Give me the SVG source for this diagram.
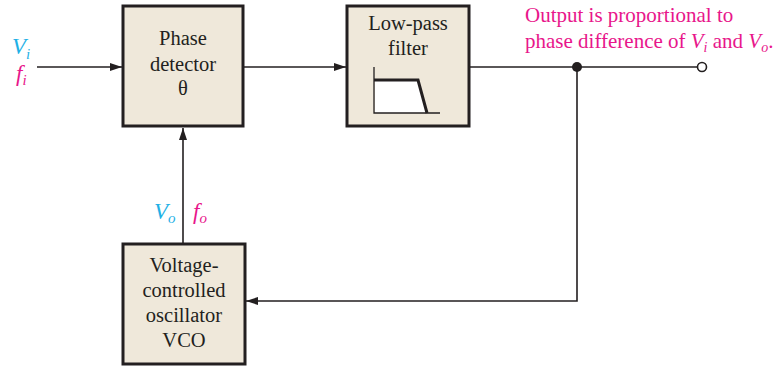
<svg xmlns="http://www.w3.org/2000/svg" width="780" height="368" viewBox="0 0 780 368">
<defs>
<style>
.box{fill:#efe8da;stroke:#231f20;stroke-width:3}
.t{font-family:"Liberation Serif","Times New Roman",serif;font-size:20.5px;fill:#231f20;text-anchor:middle}
.w{stroke:#231f20;stroke-width:1.6;fill:none}
.b{fill:#1fb1e6}
.m{fill:#e8168b}
.lbl{font-family:"Liberation Serif","Times New Roman",serif;font-size:23px}
.note{font-family:"Liberation Serif","Times New Roman",serif;font-size:21px}
.it{font-style:italic}
</style>
<marker id="ah" markerWidth="12" markerHeight="8" refX="12" refY="4" orient="auto" markerUnits="userSpaceOnUse">
<path d="M0,0 L12,4 L0,8 Z" fill="#231f20"/>
</marker>
</defs>
<rect width="780" height="368" fill="#ffffff"/>
<g id="connectors">
<line class="w" x1="37" y1="67" x2="122" y2="67" marker-end="url(#ah)"/>
<line class="w" x1="243" y1="67" x2="346" y2="67" marker-end="url(#ah)"/>
<line class="w" x1="469" y1="67" x2="698" y2="67"/>
<polyline class="w" points="577,67 577,301 246,301" marker-end="url(#ah)"/>
<line class="w" x1="183" y1="243" x2="183" y2="128" marker-end="url(#ah)"/>
<circle cx="577" cy="67" r="5" fill="#231f20"/>
<circle cx="702" cy="67" r="4.5" fill="#fff" stroke="#231f20" stroke-width="1.6"/>
</g>
<g id="phase-detector">
<rect class="box" x="123" y="6" width="120" height="120"/>
<text class="t" x="183" y="45">Phase</text>
<text class="t" x="183" y="71">detector</text>
<text class="t" x="183" y="95">θ</text>
</g>
<g id="low-pass-filter">
<rect class="box" x="347" y="6" width="122" height="120"/>
<text class="t" x="408" y="30">Low-pass</text>
<text class="t" x="408" y="55">filter</text>
<path d="M375,80 L418,80 L427,113 L375,113 Z" fill="#fff"/>
<polyline points="374,67 374,113 440,113" fill="none" stroke="#231f20" stroke-width="1.3"/>
<polyline points="374,80 418,80 427,113" fill="none" stroke="#231f20" stroke-width="3"/>
</g>
<g id="vco">
<rect class="box" x="123" y="244" width="122" height="120"/>
<text class="t" x="184" y="272">Voltage-</text>
<text class="t" x="184" y="297">controlled</text>
<text class="t" x="184" y="322">oscillator</text>
<text class="t" x="184" y="347">VCO</text>
</g>
<g id="labels">
<text class="lbl b it" x="12" y="54">V<tspan font-size="15" dy="5">i</tspan></text>
<text class="lbl m it" x="16" y="81">f<tspan font-size="15" dy="4">i</tspan></text>
<text class="lbl b it" x="154" y="219">V<tspan font-size="15" dy="4">o</tspan></text>
<text class="lbl m it" x="193" y="219">f<tspan font-size="15" dy="4">o</tspan></text>
<text class="note m" x="525" y="22">Output is proportional to</text>
<text class="note m" x="525" y="48">phase difference of <tspan class="it">V</tspan><tspan class="it" font-size="14" dy="4">i</tspan><tspan dy="-4"> and </tspan><tspan class="it">V</tspan><tspan class="it" font-size="14" dy="4">o</tspan><tspan dy="-4">.</tspan></text>
</g>
</svg>
